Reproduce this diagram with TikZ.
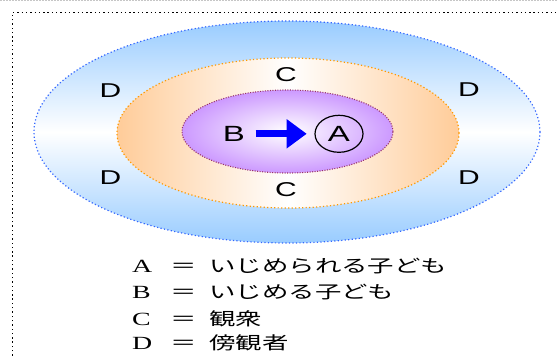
\documentclass[tikz,border=0pt]{standalone}
\usepackage{fontspec}
\usepackage{graphicx}
\setmainfont{Liberation Serif}
\newfontfamily\jpf{Noto Sans CJK JP}
\newfontfamily\arialf{Liberation Sans}
\usetikzlibrary{arrows.meta,shapes.geometric}
\definecolor{blueFill}{HTML}{99CCFF}
\definecolor{blueLine}{HTML}{3366FF}
\definecolor{orFill}{HTML}{FFCC99}
\definecolor{orLine}{HTML}{FF9900}
\definecolor{puFill}{HTML}{CC99FF}
\definecolor{puLine}{HTML}{993366}
\newcommand\LegRow[2]{\scalebox{1.5}[1]{\fontsize{18.6}{20}\selectfont\makebox[25.3pt][l]{#1}\makebox[26.2pt][l]{\jpf\fontsize{17.6}{20}\selectfont ＝}{\jpf\fontsize{17.6}{20}\selectfont #2}}}
\newcommand\RingLbl[1]{\scalebox{1.5}[1]{\arialf\fontsize{20}{22}\selectfont #1}}
\newcommand\KidLbl[1]{\scalebox{1.5}[1]{\arialf\fontsize{22}{24}\selectfont #1}}
\begin{document}
\begin{tikzpicture}[x=1pt,y=-1pt,
  lbl/.style={inner sep=0pt},
  legrow/.style={anchor=base west, inner sep=0pt},
  ringline/.style={line width=1.2pt, dash pattern=on 1.2pt off 2.3pt}]
\useasboundingbox (0,0) rectangle (557,356);
% page edges
\draw[gray!45, line width=0.8pt, dash pattern=on 1.5pt off 1.5pt] (0,0.6) -- (557,0.6);
\draw[black, line width=1.3pt, dash pattern=on 1.4pt off 2.9pt] (12.3,360) -- (12.3,12.5) -- (560,12.5);
% outer ring (D)
\path[top color=blueFill, bottom color=blueFill, middle color=white] (287,132) ellipse [x radius=253pt, y radius=111pt];
\draw[ringline, blueLine] (287,132) ellipse [x radius=253pt, y radius=111pt];
% middle ring (C)
\path[left color=orFill, right color=orFill, middle color=white] (288,133) ellipse [x radius=171pt, y radius=75pt];
\draw[ringline, orLine] (288,133) ellipse [x radius=171pt, y radius=75pt];
% inner ring
\path[inner color=white, outer color=puFill] (287.5,131.5) ellipse [x radius=105.5pt, y radius=41.5pt];
\draw[puLine, line width=1.1pt, dash pattern=on 1pt off 1.5pt] (287.5,131.5) ellipse [x radius=105.5pt, y radius=41.5pt];
% labels
\node[lbl] (C1) at (286,75) {\RingLbl{C}};
\node[lbl] (C2) at (286,190) {\RingLbl{C}};
\node[lbl] (D1) at (110.5,90.5) {\RingLbl{D}};
\node[lbl] (D2) at (110.5,177.5) {\RingLbl{D}};
\node[lbl] (D3) at (469,90) {\RingLbl{D}};
\node[lbl] (D4) at (469,177.5) {\RingLbl{D}};
\node[lbl] (B) at (233.8,133.8) {\KidLbl{B}};
\node[draw, ellipse, line width=1.2pt, minimum width=48pt, minimum height=37pt, inner sep=0pt] (A) at (339,133.8) {\KidLbl{A}};
\draw[blue, line width=7.3pt, -{Triangle[length=20pt,width=28pt]}, shorten <=10.5pt, shorten >=7.7pt] (B.east) -- (A.west);
% legend
\node[legrow] (LA) at (132,272.3) {\LegRow{A}{いじめられる子ども}};
\node[legrow] (LB) at (132,298.8) {\LegRow{B}{いじめる子ども}};
\node[legrow] (LC) at (132,325.0) {\LegRow{C}{観衆}};
\node[legrow] (LD) at (132,349.5) {\LegRow{D}{傍観者}};
\end{tikzpicture}
\end{document}
